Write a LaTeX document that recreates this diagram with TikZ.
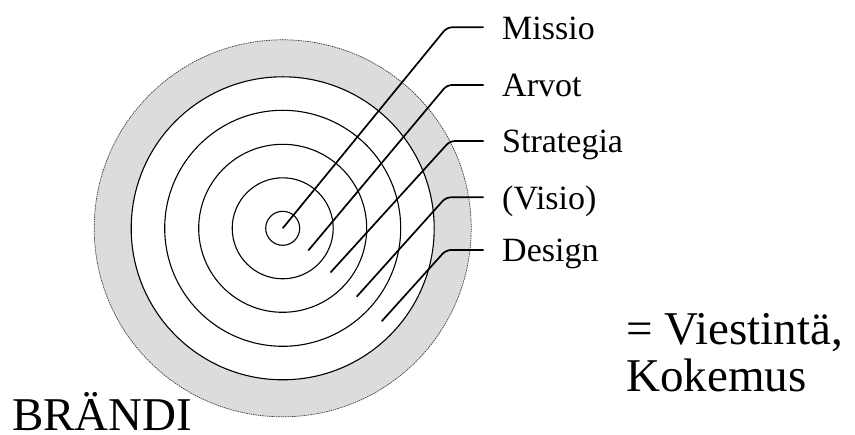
\documentclass[tikz,border=0pt]{standalone}
\usepackage{fontspec}
\setmainfont{Liberation Serif}
\begin{document}
\begin{tikzpicture}[x=1pt,y=-1pt,
  ring/.style={draw=black,line width=1.1pt},
  leader/.style={draw=black,line width=1.7pt,rounded corners=5pt},
  lbl/.style={anchor=base west,inner sep=0pt,font=\fontsize{34}{40}\selectfont},
  big/.style={anchor=base west,inner sep=0pt,font=\fontsize{47}{52}\selectfont}]
\useasboundingbox (0,0) rectangle (855,435);
\coordinate (c) at (282.7,228.3);
% outer grey band
\fill[fill={rgb,255:red,220;green,220;blue,220}] (c) circle (188.5);
\draw[draw=black!75,line width=0.7pt,dash pattern=on 1.5pt off 0.8pt] (c) circle (188.5);
\filldraw[fill=white,ring] (c) circle (151.5);
\draw[ring] (c) circle (118);
\draw[ring] (c) circle (84);
\draw[ring] (c) circle (50.5);
\draw[ring] (c) circle (17);
% labels
\node[lbl] (l1) at (502,39.5) {Missio};
\node[lbl] (l2) at (502,96.5) {Arvot};
\node[lbl] (l3) at (502,153) {Strategia};
\node[lbl] (l4) at (502,209.5) {(Visio)};
\node[lbl] (l5) at (502,262) {Design};
% leader coordinates
\coordinate (s1) at (282.7,228.3);
\coordinate (s2) at (308.3,250.5);
\coordinate (s3) at (330.5,272.5);
\coordinate (s4) at (356.7,296.7);
\coordinate (s5) at (381.7,321.3);
\coordinate (e1) at (447,27.3);
\coordinate (e2) at (447,85);
\coordinate (e3) at (450,141);
\coordinate (e4) at (446,197.3);
\coordinate (e5) at (446,250);
\coordinate (h1) at (483.5,27.3);
\coordinate (h2) at (483.5,85);
\coordinate (h3) at (483.5,141);
\coordinate (h4) at (483.5,197.3);
\coordinate (h5) at (483.5,250);
\draw[leader] (s1) -- (e1) -- (h1);
\draw[leader] (s2) -- (e2) -- (h2);
\draw[leader] (s3) -- (e3) -- (h3);
\draw[leader] (s4) -- (e4) -- (h4);
\draw[leader] (s5) -- (e5) -- (h5);
% big texts
\node[big] (brand) at (12,431) {BRÄNDI};
\node[big] (eq1) at (626,345) {= Viestintä,};
\node[big] (eq2) at (626,391.7) {Kokemus};
\end{tikzpicture}
\end{document}
